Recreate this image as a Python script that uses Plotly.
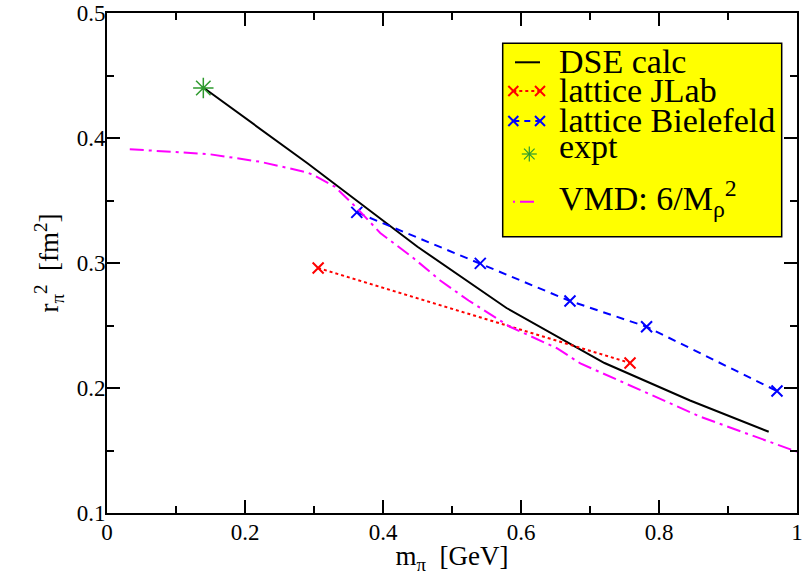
import plotly.graph_objects as go

# DSE calculation
dse_m = [0.138, 0.29, 0.45, 0.579, 0.721, 0.845, 0.959]
dse_r = [0.441, 0.380, 0.313, 0.264, 0.220, 0.190, 0.165]

# lattice JLab
jlab_m = [0.306, 0.758]
jlab_r = [0.296, 0.220]

# lattice Bielefeld
bie_m = [0.362, 0.541, 0.671, 0.782, 0.971]
bie_r = [0.3405, 0.2997, 0.2696, 0.249, 0.1976]

# experiment
expt_m = [0.1396]
expt_r = [0.440]

# VMD: 6/M_rho^2
vmd_m = [0.033, 0.149, 0.222, 0.289, 0.299, 0.330, 0.362, 0.396, 0.444,
         0.483, 0.524, 0.584, 0.652, 0.686, 0.86, 1.0]
vmd_r = [0.391, 0.387, 0.381, 0.3726, 0.3704, 0.3611, 0.344, 0.324, 0.304,
         0.286, 0.270, 0.249, 0.2318, 0.2197, 0.177, 0.149]

legend_labels = ["DSE calc", "lattice JLab", "lattice Bielefeld", "expt",
                 "VMD: 6/M<sub>ρ</sub><sup>2</sup>"]

FONT = "Liberation Serif"
GREEN = "#2e9a2e"

fig = go.Figure()
fig.add_trace(go.Scatter(x=dse_m, y=dse_r, mode="lines", name=legend_labels[0],
                         line=dict(color="black", width=2), showlegend=False))
fig.add_trace(go.Scatter(x=jlab_m, y=jlab_r, mode="lines+markers", name=legend_labels[1],
                         line=dict(color="red", width=2, dash="dot"),
                         marker=dict(symbol="x-thin-open", size=11, color="red",
                                     line=dict(color="red", width=2)), showlegend=False))
fig.add_trace(go.Scatter(x=bie_m, y=bie_r, mode="lines+markers", name=legend_labels[2],
                         line=dict(color="blue", width=2, dash="8px,6px"),
                         marker=dict(symbol="x-thin-open", size=11, color="blue",
                                     line=dict(color="blue", width=2)), showlegend=False))
fig.add_trace(go.Scatter(x=expt_m, y=expt_r, mode="markers", name=legend_labels[3],
                         marker=dict(symbol="asterisk-open", size=17, color=GREEN,
                                     line=dict(color=GREEN, width=1.5)), showlegend=False))
fig.add_trace(go.Scatter(x=vmd_m, y=vmd_r, mode="lines", name=legend_labels[4],
                         line=dict(color="magenta", width=2, dash="14px,5px,3px,5px"),
                         showlegend=False))

axis_common = dict(
    showline=True, linecolor="black", linewidth=2, mirror="ticks",
    ticks="inside", ticklen=13, tickwidth=1.5, tickcolor="black",
    showgrid=False, zeroline=False, automargin=False, ticklabeloverflow="allow",
    tickfont=dict(family=FONT, size=23, color="black"),
    minor=dict(ticks="inside", ticklen=7, tickwidth=1.5, tickcolor="black", showgrid=False),
)

fig.update_xaxes(range=[0, 1], dtick=0.2, minor_dtick=0.1, ticklabelstandoff=-3,
                 title=dict(text="m<sub>π</sub>  [GeV]", font=dict(family=FONT, size=27, color="black"),
                            standoff=2),
                 **axis_common)
fig.update_yaxes(range=[0.1, 0.5], dtick=0.1, minor_dtick=0.05, tickformat=".1f",
                 ticklabelstandoff=-5,
                 title=dict(text="r<sub>π</sub><sup>2</sup>  [fm<sup>2</sup>]",
                            font=dict(family=FONT, size=27, color="black"), standoff=10),
                 **axis_common)

# ---- hand-drawn legend box (xmgrace style); page coords -> paper coords ----
W, H, L, T = 690.0, 500.0, 107.0, 13.0
def px(x):
    return (x - L) / W
def py(y):
    return 1 - (y - T) / H

shapes = []
shapes.append(dict(type="rect", xref="paper", yref="paper",
                   x0=px(502.7), x1=px(781.7), y0=py(236.7), y1=py(43.3),
                   fillcolor="yellow", line=dict(color="black", width=1.5), layer="above"))

def seg(x0, x1, y, color, dash):
    shapes.append(dict(type="line", xref="paper", yref="paper",
                       x0=px(x0), x1=px(x1), y0=py(y), y1=py(y),
                       line=dict(color=color, width=2, dash=dash), layer="above"))

def cross(x, y, color, r=5):
    for a, b in ((-r, r), (r, -r)):
        shapes.append(dict(type="line", xref="paper", yref="paper",
                           xsizemode="pixel", ysizemode="pixel",
                           xanchor=px(x), yanchor=py(y),
                           x0=-r, x1=r, y0=a, y1=b,
                           line=dict(color=color, width=2), layer="above"))

def asterisk(x, y, color, r=7.5):
    d = r * 0.707
    for (dx, dy) in ((r, 0), (0, r), (d, d), (d, -d)):
        shapes.append(dict(type="line", xref="paper", yref="paper",
                           xsizemode="pixel", ysizemode="pixel",
                           xanchor=px(x), yanchor=py(y),
                           x0=-dx, x1=dx, y0=-dy, y1=dy,
                           line=dict(color=color, width=1.2), layer="above"))

seg(515, 540, 62.3, "black", "solid")
seg(513.3, 540, 91, "red", "dot")
cross(513.3, 91, "red")
cross(540, 91, "red")
seg(513.3, 540, 121, "blue", "6px,5px")
cross(513.3, 121, "blue")
cross(540, 121, "blue")
asterisk(529.3, 154, GREEN)
seg(513, 536, 201.7, "magenta", "2px,5px,14px,5px")

text_y = [61.8, 90.2, 120.2, 146.8, 198.0]
annotations = []
for lab, ty in zip(legend_labels, text_y):
    annotations.append(dict(text=lab, xref="paper", yref="paper", x=px(556.7), y=py(ty),
                            xanchor="left", yanchor="middle", showarrow=False,
                            font=dict(family=FONT, size=34, color="black")))

fig.update_layout(
    width=805, height=575,
    margin=dict(l=107, r=8, t=13, b=62),
    plot_bgcolor="white", paper_bgcolor="white",
    font=dict(family=FONT, color="black"),
    showlegend=False,
    shapes=shapes,
    annotations=annotations,
)

# remove the browser's default 8px body margin so the figure fills the window
fig.write_html("out.html",
               config={"displayModeBar": False},
               post_script="document.body.style.margin='0';document.body.style.overflow='hidden';")
